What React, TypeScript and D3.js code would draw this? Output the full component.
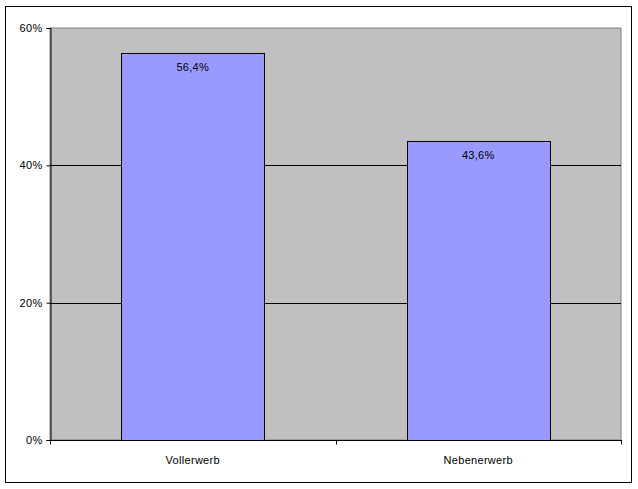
import * as d3 from "d3";
import { useEffect, useRef } from "react";

const categories = ["Vollerwerb", "Nebenerwerb"];
const shares = [56.4, 43.6];
const valueLabels = ["56,4%", "43,6%"];
const yTicks = [0, 20, 40, 60];

export default function App() {
  const ref = useRef<SVGSVGElement>(null);

  useEffect(() => {
    if (!ref.current) return;

    const width = 638;
    const height = 489;
    const plot = { left: 50, top: 28, right: 621, bottom: 440 };

    const svg = d3.select(ref.current);
    svg.selectAll("*").remove();

    const font = "Arial, 'Liberation Sans', sans-serif";

    // outer chart border
    svg
      .append("rect")
      .attr("x", 5.5)
      .attr("y", 6.5)
      .attr("width", 626)
      .attr("height", 476)
      .attr("fill", "white")
      .attr("stroke", "black")
      .attr("stroke-width", 1);

    const x = d3
      .scaleBand()
      .domain(categories)
      .range([plot.left, plot.right])
      .paddingInner(0.5)
      .paddingOuter(0.25);

    const y = d3
      .scaleLinear()
      .domain([0, 60])
      .range([plot.bottom, plot.top]);

    // plot area
    svg
      .append("rect")
      .attr("x", plot.left)
      .attr("y", plot.top)
      .attr("width", plot.right - plot.left)
      .attr("height", plot.bottom - plot.top)
      .attr("fill", "#c0c0c0")
      .attr("stroke", "#808080")
      .attr("stroke-width", 1);

    // gridlines
    svg
      .append("g")
      .selectAll("line")
      .data(yTicks.filter((t) => t > 0 && t < 60))
      .join("line")
      .attr("x1", plot.left)
      .attr("x2", plot.right)
      .attr("y1", (d) => Math.round(y(d)) + 0.5)
      .attr("y2", (d) => Math.round(y(d)) + 0.5)
      .attr("stroke", "black");

    // bars
    svg
      .append("g")
      .selectAll("rect")
      .data(shares)
      .join("rect")
      .attr("x", (d, i) => Math.round(x(categories[i])!) + 0.5)
      .attr("y", (d) => Math.round(y(d)) + 0.5)
      .attr("width", Math.round(x.bandwidth()))
      .attr("height", (d) => Math.round(y(0)) - Math.round(y(d)))
      .attr("fill", "#9999ff")
      .attr("stroke", "black");

    // value labels
    svg
      .append("g")
      .selectAll("text")
      .data(shares)
      .join("text")
      .attr("x", (d, i) => x(categories[i])! + x.bandwidth() / 2)
      .attr("y", (d) => y(d) + 18)
      .attr("text-anchor", "middle")
      .style("font-family", font)
      .style("font-size", "11px")
      .style("letter-spacing", "0.3px")
      .text((d, i) => valueLabels[i]);

    // y axis
    const yAxis = svg
      .append("g")
      .attr("transform", `translate(${plot.left + 0.5},0)`)
      .call(
        d3
          .axisLeft(y)
          .tickValues(yTicks)
          .tickSize(4)
          .tickPadding(4)
          .tickFormat((d) => `${d}%`)
      );
    yAxis.select(".domain").attr("stroke", "black");
    yAxis
      .selectAll("text")
      .style("font-family", font)
      .style("font-size", "11px")
      .style("letter-spacing", "0.3px")
      .attr("fill", "black");

    // x axis
    const xAxis = svg
      .append("g")
      .attr("transform", `translate(0,${plot.bottom + 0.5})`);
    xAxis
      .append("line")
      .attr("x1", plot.left)
      .attr("x2", plot.right + 1)
      .attr("stroke", "black");
    const step = (plot.right - plot.left) / categories.length;
    xAxis
      .selectAll(".tick-mark")
      .data(d3.range(categories.length + 1))
      .join("line")
      .attr("class", "tick-mark")
      .attr("x1", (d) => Math.round(plot.left + d * step) + 0.5)
      .attr("x2", (d) => Math.round(plot.left + d * step) + 0.5)
      .attr("y1", 0)
      .attr("y2", 4)
      .attr("stroke", "black");
    xAxis
      .selectAll("text")
      .data(categories)
      .join("text")
      .attr("x", (d) => x(d)! + x.bandwidth() / 2)
      .attr("y", 23)
      .attr("text-anchor", "middle")
      .style("font-family", font)
      .style("font-size", "11px")
      .style("letter-spacing", "0.3px")
      .text((d) => d);

    svg.attr("width", width).attr("height", height);
  }, []);

  return (
    <svg
      ref={ref}
      width={638}
      height={489}
      style={{ position: "absolute", left: 0, top: 0, background: "white" }}
    />
  );
}
